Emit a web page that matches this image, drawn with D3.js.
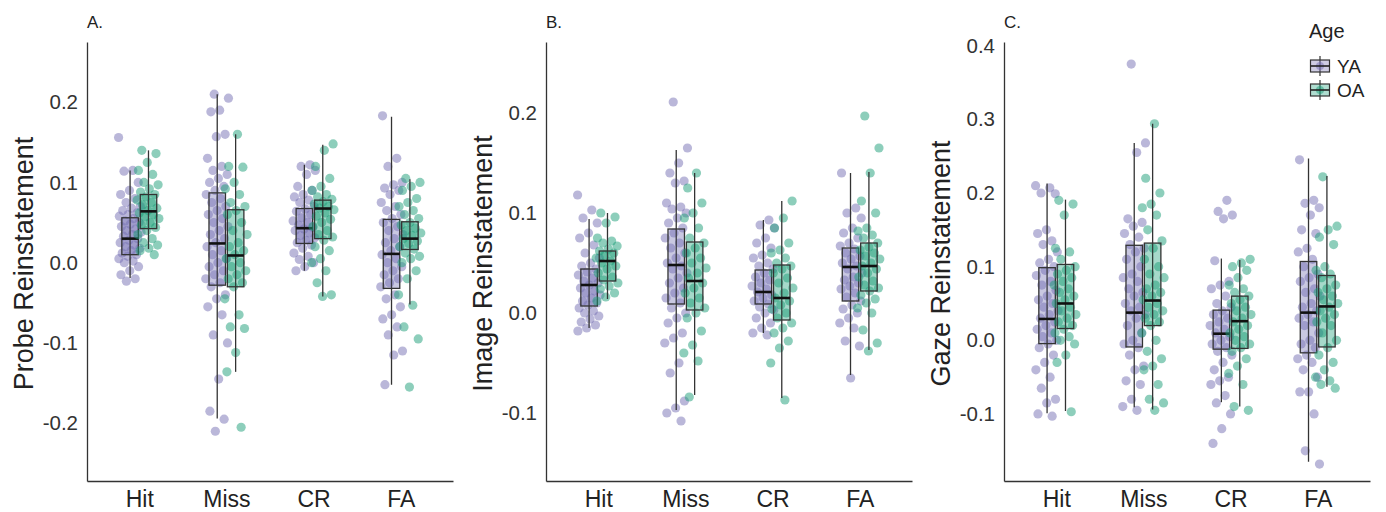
<!DOCTYPE html>
<html>
<head>
<meta charset="utf-8">
<script src="https://cdn.jsdelivr.net/npm/d3@7"></script>
<style>
  body { margin: 0; background: #fff; }
  svg text { font-family: "Liberation Sans", Arial, sans-serif; }
</style>
</head>
<body>
<svg id="chart" width="1386" height="512"></svg>
<script>
const categories = ["Hit", "Miss", "CR", "FA"];
const ages = ["YA", "OA"];
const ageColors = ["#7570b3", "#1b9e77"];

// box stats per category: [lower whisker, q1, median, q3, upper whisker]
const probeBoxYA = [
  [-0.019, 0.01, 0.03, 0.056, 0.115],
  [-0.194, -0.028, 0.024, 0.087, 0.21],
  [-0.01, 0.024, 0.043, 0.0675, 0.122],
  [-0.152, -0.032, 0.011, 0.054, 0.182],
];
const probeBoxOA = [
  [0.017, 0.0425, 0.064, 0.085, 0.14],
  [-0.136, -0.03, 0.009, 0.066, 0.16],
  [-0.042, 0.03, 0.0675, 0.078, 0.147],
  [-0.052, 0.0165, 0.03, 0.051, 0.104],
];
const imageBoxYA = [
  [-0.015, 0.007, 0.028, 0.044, 0.094],
  [-0.097, 0.009, 0.048, 0.084, 0.163],
  [-0.02, 0.009, 0.021, 0.043, 0.093],
  [-0.062, 0.012, 0.046, 0.065, 0.14],
];
const imageBoxOA = [
  [0.014, 0.032, 0.052, 0.062, 0.1],
  [-0.082, 0.003, 0.032, 0.071, 0.14],
  [-0.085, -0.007, 0.015, 0.048, 0.112],
  [-0.037, 0.022, 0.047, 0.07, 0.141],
];
const gazeBoxYA = [
  [-0.099, -0.0045, 0.029, 0.0986, 0.213],
  [-0.091, -0.009, 0.0376, 0.129, 0.268],
  [-0.084, -0.012, 0.009, 0.041, 0.111],
  [-0.165, -0.017, 0.0376, 0.107, 0.247],
];
const gazeBoxOA = [
  [-0.096, 0.016, 0.05, 0.103, 0.191],
  [-0.094, 0.02, 0.054, 0.132, 0.294],
  [-0.09, -0.011, 0.026, 0.06, 0.109],
  [-0.063, -0.009, 0.046, 0.088, 0.223],
];

// individual points per category (Hit, Miss, CR, FA)
const probeYA = [
  [0.156, 0.115, 0.114, 0.1, 0.09, 0.085, 0.08, 0.075, 0.07, 0.068, 0.065, 0.062, 0.06, 0.058, 0.055, 0.052, 0.05, 0.048, 0.045, 0.042, 0.04, 0.038, 0.035, 0.033, 0.03, 0.028, 0.025, 0.022, 0.02, 0.018, 0.015, 0.012, 0.01, 0.008, 0.005, 0.002, 0, -0.005, -0.01, -0.015, -0.02, -0.023],
  [0.21, 0.205, 0.19, 0.188, 0.16, 0.157, 0.13, 0.12, 0.115, 0.11, 0.105, 0.1, 0.095, 0.09, 0.085, 0.08, 0.075, 0.07, 0.065, 0.06, 0.055, 0.05, 0.045, 0.04, 0.035, 0.03, 0.025, 0.02, 0.015, 0.01, 0.005, 0, -0.005, -0.01, -0.015, -0.02, -0.025, -0.03, -0.04, -0.045, -0.055, -0.065, -0.09, -0.1, -0.145, -0.185, -0.195, -0.21],
  [0.122, 0.12, 0.115, 0.11, 0.095, 0.09, 0.085, 0.082, 0.078, 0.075, 0.07, 0.067, 0.064, 0.06, 0.056, 0.052, 0.05, 0.047, 0.044, 0.042, 0.04, 0.037, 0.034, 0.031, 0.028, 0.025, 0.022, 0.018, 0.012, 0.008, 0.004, 0, -0.005, -0.01],
  [0.183, 0.13, 0.12, 0.1, 0.097, 0.093, 0.09, 0.085, 0.075, 0.07, 0.065, 0.06, 0.055, 0.05, 0.045, 0.04, 0.035, 0.03, 0.025, 0.02, 0.015, 0.01, 0.005, 0, -0.005, -0.01, -0.015, -0.02, -0.025, -0.03, -0.04, -0.045, -0.055, -0.065, -0.07, -0.08, -0.09, -0.11, -0.115, -0.152],
];
const probeOA = [
  [0.14, 0.136, 0.125, 0.115, 0.11, 0.1, 0.097, 0.092, 0.088, 0.085, 0.082, 0.078, 0.075, 0.072, 0.068, 0.065, 0.062, 0.06, 0.057, 0.055, 0.05, 0.047, 0.044, 0.04, 0.035, 0.03, 0.025, 0.022, 0.018, 0.015, 0.01],
  [0.16, 0.12, 0.119, 0.1, 0.092, 0.085, 0.075, 0.07, 0.065, 0.06, 0.05, 0.04, 0.035, 0.025, 0.02, 0.015, 0.01, 0.005, 0, -0.005, -0.01, -0.015, -0.02, -0.025, -0.03, -0.045, -0.065, -0.08, -0.082, -0.112, -0.136, -0.205],
  [0.148, 0.14, 0.12, 0.105, 0.095, 0.09, 0.085, 0.082, 0.079, 0.076, 0.073, 0.07, 0.068, 0.066, 0.062, 0.058, 0.054, 0.05, 0.045, 0.04, 0.035, 0.032, 0.028, 0.02, 0.015, 0.005, 0, -0.01, -0.025, -0.04, -0.042],
  [0.105, 0.1, 0.095, 0.09, 0.08, 0.075, 0.07, 0.065, 0.06, 0.055, 0.05, 0.047, 0.043, 0.04, 0.037, 0.034, 0.03, 0.027, 0.024, 0.02, 0.017, 0.012, 0.008, 0.005, 0, -0.01, -0.02, -0.04, -0.053, -0.08, -0.095, -0.155],
];
const imageYA = [
  [0.118, 0.103, 0.095, 0.09, 0.08, 0.075, 0.068, 0.06, 0.055, 0.05, 0.047, 0.044, 0.041, 0.038, 0.035, 0.032, 0.03, 0.028, 0.025, 0.022, 0.02, 0.018, 0.015, 0.012, 0.01, 0.008, 0.005, 0.002, 0, -0.003, -0.006, -0.009, -0.012, -0.015, -0.018],
  [0.211, 0.165, 0.15, 0.14, 0.132, 0.13, 0.11, 0.106, 0.104, 0.1, 0.095, 0.09, 0.085, 0.08, 0.075, 0.07, 0.065, 0.06, 0.055, 0.05, 0.047, 0.044, 0.04, 0.035, 0.03, 0.025, 0.02, 0.015, 0.01, 0.005, 0, -0.005, -0.01, -0.02, -0.025, -0.03, -0.05, -0.06, -0.088, -0.095, -0.1, -0.108],
  [0.093, 0.088, 0.085, 0.075, 0.07, 0.065, 0.058, 0.055, 0.05, 0.047, 0.044, 0.04, 0.036, 0.033, 0.03, 0.027, 0.024, 0.021, 0.018, 0.015, 0.012, 0.009, 0.006, 0.003, 0, -0.005, -0.01, -0.015, -0.02, -0.022],
  [0.14, 0.105, 0.1, 0.095, 0.085, 0.08, 0.075, 0.07, 0.067, 0.064, 0.06, 0.057, 0.054, 0.05, 0.047, 0.044, 0.04, 0.036, 0.033, 0.03, 0.027, 0.024, 0.02, 0.016, 0.012, 0.008, 0.004, 0, -0.005, -0.01, -0.015, -0.028, -0.033, -0.065],
];
const imageOA = [
  [0.1, 0.096, 0.09, 0.075, 0.072, 0.07, 0.067, 0.064, 0.062, 0.06, 0.058, 0.055, 0.052, 0.05, 0.047, 0.044, 0.04, 0.036, 0.033, 0.03, 0.027, 0.024, 0.02, 0.016, 0.012],
  [0.14, 0.125, 0.11, 0.1, 0.095, 0.085, 0.075, 0.07, 0.065, 0.06, 0.055, 0.05, 0.045, 0.04, 0.035, 0.03, 0.025, 0.02, 0.015, 0.01, 0.005, 0, -0.005, -0.018, -0.032, -0.04, -0.048, -0.084],
  [0.112, 0.095, 0.085, 0.07, 0.063, 0.06, 0.055, 0.05, 0.047, 0.044, 0.04, 0.035, 0.03, 0.025, 0.02, 0.015, 0.012, 0.008, 0.004, 0, -0.005, -0.01, -0.015, -0.02, -0.028, -0.035, -0.05, -0.087],
  [0.197, 0.165, 0.14, 0.112, 0.1, 0.085, 0.082, 0.078, 0.075, 0.07, 0.066, 0.063, 0.06, 0.057, 0.054, 0.05, 0.047, 0.044, 0.04, 0.036, 0.032, 0.028, 0.025, 0.022, 0.018, 0.014, 0.01, 0.005, 0, -0.017, -0.03, -0.038],
];
const gazeYA = [
  [0.21, 0.207, 0.2, 0.199, 0.15, 0.145, 0.135, 0.13, 0.12, 0.11, 0.105, 0.1, 0.095, 0.088, 0.08, 0.075, 0.068, 0.06, 0.055, 0.05, 0.045, 0.04, 0.035, 0.03, 0.025, 0.02, 0.015, 0.01, 0.005, 0, -0.005, -0.01, -0.02, -0.03, -0.04, -0.05, -0.065, -0.08, -0.085, -0.1, -0.103],
  [0.375, 0.268, 0.255, 0.165, 0.16, 0.155, 0.145, 0.14, 0.13, 0.125, 0.12, 0.11, 0.1, 0.09, 0.085, 0.08, 0.07, 0.065, 0.06, 0.05, 0.045, 0.04, 0.035, 0.03, 0.02, 0.01, 0, -0.005, -0.01, -0.02, -0.035, -0.04, -0.055, -0.06, -0.08, -0.09, -0.095],
  [0.19, 0.175, 0.17, 0.165, 0.108, 0.08, 0.075, 0.07, 0.06, 0.05, 0.045, 0.04, 0.035, 0.03, 0.025, 0.02, 0.015, 0.01, 0.005, 0, -0.005, -0.01, -0.015, -0.02, -0.03, -0.04, -0.05, -0.055, -0.06, -0.075, -0.085, -0.1, -0.12, -0.14],
  [0.245, 0.19, 0.186, 0.18, 0.17, 0.15, 0.145, 0.125, 0.12, 0.11, 0.1, 0.09, 0.085, 0.08, 0.07, 0.065, 0.06, 0.05, 0.045, 0.04, 0.035, 0.03, 0.025, 0.02, 0.01, 0, -0.005, -0.01, -0.02, -0.025, -0.03, -0.04, -0.05, -0.07, -0.07, -0.1, -0.15, -0.168],
];
const gazeOA = [
  [0.19, 0.185, 0.17, 0.125, 0.12, 0.11, 0.1, 0.095, 0.09, 0.085, 0.08, 0.075, 0.07, 0.065, 0.06, 0.055, 0.05, 0.045, 0.04, 0.035, 0.03, 0.025, 0.02, 0.015, 0.01, 0.005, 0, -0.005, -0.02, -0.03, -0.097],
  [0.294, 0.22, 0.2, 0.185, 0.18, 0.17, 0.15, 0.135, 0.125, 0.11, 0.1, 0.09, 0.085, 0.075, 0.07, 0.065, 0.06, 0.055, 0.05, 0.045, 0.04, 0.035, 0.03, 0.025, 0.02, 0.01, 0, -0.015, -0.025, -0.035, -0.04, -0.06, -0.08, -0.085, -0.095],
  [0.11, 0.105, 0.1, 0.095, 0.085, 0.075, 0.07, 0.065, 0.06, 0.055, 0.05, 0.045, 0.04, 0.035, 0.03, 0.025, 0.02, 0.015, 0.01, 0.005, 0, -0.005, -0.01, -0.015, -0.025, -0.035, -0.045, -0.06, -0.09, -0.095],
  [0.222, 0.155, 0.15, 0.14, 0.13, 0.1, 0.095, 0.09, 0.085, 0.075, 0.07, 0.065, 0.06, 0.055, 0.05, 0.045, 0.04, 0.035, 0.03, 0.025, 0.02, 0.01, 0, -0.01, -0.02, -0.03, -0.04, -0.05, -0.055, -0.06, -0.065],
];

const probeTicks = [-0.2, -0.1, 0, 0.1, 0.2];
const imageTicks = [-0.1, 0, 0.1, 0.2];
const gazeTicks = [-0.1, 0, 0.1, 0.2, 0.3, 0.4];

const panels = [
  { letter: "A.", title: "Probe Reinstatement", left: 87, domain: [-0.272, 0.275], ticks: probeTicks,
    points: [probeYA, probeOA], boxes: [probeBoxYA, probeBoxOA] },
  { letter: "B.", title: "Image Reinstatement", left: 546, domain: [-0.168, 0.271], ticks: imageTicks,
    points: [imageYA, imageOA], boxes: [imageBoxYA, imageBoxOA] },
  { letter: "C.", title: "Gaze Reinstatement", left: 1004, domain: [-0.191, 0.405], ticks: gazeTicks,
    points: [gazeYA, gazeOA], boxes: [gazeBoxYA, gazeBoxOA] },
];

const plotTop = 42, plotBottom = 481, plotW = 366;
const boxW = 16.5, dodge = 9.2, jitterW = 11.5;
const svg = d3.select("#chart");

const drawPanel = (p) => {
  const g = svg.append("g").attr("transform", `translate(${p.left},0)`);
  const x = d3.scalePoint().domain(categories).range([0, plotW]).padding(0.6);
  const y = d3.scaleLinear().domain(p.domain).range([plotBottom, plotTop]);

  // axes
  const yAxis = g.append("g")
    .call(d3.axisLeft(y).tickValues(p.ticks).tickSize(0).tickPadding(9).tickFormat((d) => d.toFixed(1)));
  yAxis.select(".domain").attr("stroke", "#333").attr("stroke-width", 1.3);
  yAxis.selectAll("text").attr("font-size", 20.5).attr("fill", "#333");

  const xAxis = g.append("g")
    .attr("transform", `translate(0,${plotBottom})`)
    .call(d3.axisBottom(x).tickSize(0).tickPadding(9.5));
  xAxis.select(".domain").attr("stroke", "#333").attr("stroke-width", 1.3);
  xAxis.selectAll("text").attr("font-size", 23).attr("fill", "#222");

  g.append("text")
    .attr("transform", `translate(${-54},${(plotTop + plotBottom) / 2 + 2}) rotate(-90)`)
    .attr("text-anchor", "middle")
    .attr("font-size", 27)
    .attr("fill", "#222")
    .text(p.title);

  g.append("text")
    .attr("x", 0)
    .attr("y", 28)
    .attr("font-size", 17)
    .attr("fill", "#222")
    .text(p.letter);

  ages.forEach((age, a) => {
    const off = a === 0 ? -dodge : dodge;
    const col = ageColors[a];
    const boxes = p.boxes[a];

    const bg = g.append("g");
    // box fills first, points over, lines on top
    bg.selectAll("rect.fill")
      .data(boxes)
      .join("rect")
      .attr("class", "fill")
      .attr("x", (d, i) => x(categories[i]) + off - boxW / 2)
      .attr("y", (d) => y(d[3]))
      .attr("width", boxW)
      .attr("height", (d) => y(d[1]) - y(d[3]))
      .attr("fill", col)
      .attr("fill-opacity", 0.3);

    p.points[a].forEach((vals, i) => {
      g.append("g")
        .selectAll("circle")
        .data(vals)
        .join("circle")
        .attr("cx", (d, j) => x(categories[i]) + off + (((j * 0.6180339887 + i * 0.37 + a * 0.21) % 1) - 0.5) * 2 * jitterW)
        .attr("cy", (d) => y(d))
        .attr("r", 4.6)
        .attr("fill", col)
        .attr("fill-opacity", 0.5);
    });

    const lg = g.append("g").attr("stroke", "#333");
    lg.selectAll("line.whisk")
      .data(boxes)
      .join("line")
      .attr("x1", (d, i) => x(categories[i]) + off)
      .attr("x2", (d, i) => x(categories[i]) + off)
      .attr("y1", (d) => y(d[0]))
      .attr("y2", (d) => y(d[4]))
      .attr("stroke-width", 1.3);
    lg.selectAll("rect")
      .data(boxes)
      .join("rect")
      .attr("x", (d, i) => x(categories[i]) + off - boxW / 2)
      .attr("y", (d) => y(d[3]))
      .attr("width", boxW)
      .attr("height", (d) => y(d[1]) - y(d[3]))
      .attr("fill", col)
      .attr("fill-opacity", 0.12)
      .attr("stroke-width", 1.3);
    lg.selectAll("line.med")
      .data(boxes)
      .join("line")
      .attr("class", "med")
      .attr("x1", (d, i) => x(categories[i]) + off - boxW / 2)
      .attr("x2", (d, i) => x(categories[i]) + off + boxW / 2)
      .attr("y1", (d) => y(d[2]))
      .attr("y2", (d) => y(d[2]))
      .attr("stroke", "#111")
      .attr("stroke-width", 2.6);
  });
};

panels.forEach(drawPanel);

// legend
const legend = svg.append("g").attr("transform", "translate(1309,0)");
legend.append("text")
  .attr("x", 0)
  .attr("y", 38)
  .attr("font-size", 20)
  .attr("fill", "#222")
  .text("Age");

ages.forEach((age, a) => {
  const cy = 66 + a * 24;
  const k = legend.append("g").attr("transform", `translate(11,${cy})`);
  k.append("line").attr("y1", -10).attr("y2", 10).attr("stroke", "#333").attr("stroke-width", 1.2);
  k.append("rect")
    .attr("x", -9.5).attr("y", -6).attr("width", 19).attr("height", 12)
    .attr("fill", ageColors[a]).attr("fill-opacity", 0.35)
    .attr("stroke", "#333").attr("stroke-width", 1.2);
  k.append("circle").attr("r", 4).attr("fill", ageColors[a]).attr("fill-opacity", 0.5);
  k.append("line").attr("x1", -9.5).attr("x2", 9.5).attr("stroke", "#222").attr("stroke-width", 1.6);
  legend.append("text")
    .attr("x", 28)
    .attr("y", cy + 7)
    .attr("font-size", 19)
    .attr("fill", "#222")
    .text(age);
});
</script>
</body>
</html>
